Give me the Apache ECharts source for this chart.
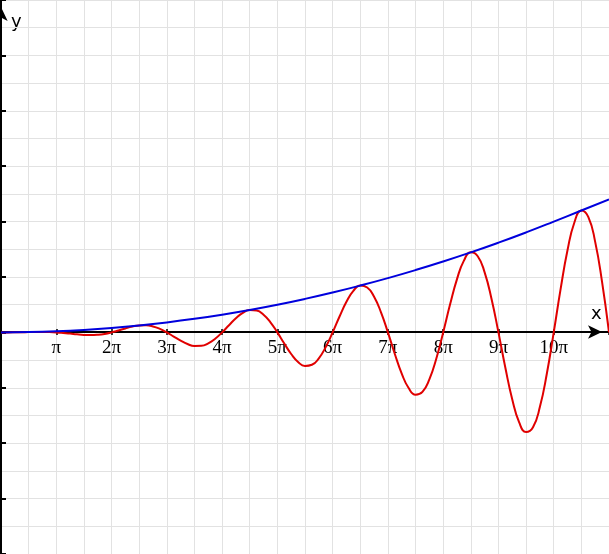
<!DOCTYPE html>
<html>
<head>
<meta charset="utf-8">
<script src="https://cdn.jsdelivr.net/npm/echarts@6/dist/echarts.min.js"></script>
<style>
html,body{margin:0;padding:0;background:#fff;}
#chart{width:609px;height:554px;}
</style>
</head>
<body>
<div id="chart"></div>
<script>
// x in multiples of pi, y in axis-tick units
const tickLabels = ['π','2π','3π','4π','5π','6π','7π','8π','9π','10π'];

const redX = [0,0.125,0.25,0.375,0.5,0.625,0.75,0.875,1,1.125,1.25,1.375,1.5,1.625,1.75,1.875,2,2.125,2.25,2.375,2.5,2.625,2.75,2.875,3,3.125,3.25,3.375,3.5,3.625,3.75,3.875,4,4.125,4.25,4.375,4.5,4.625,4.75,4.875,5,5.125,5.25,5.375,5.5,5.625,5.75,5.875,6,6.125,6.25,6.375,6.5,6.625,6.75,6.875,7,7.125,7.25,7.375,7.5,7.625,7.75,7.875,8,8.125,8.25,8.375,8.5,8.625,8.75,8.875,9,9.125,9.25,9.375,9.5,9.625,9.75,9.875,10,10.125,10.25,10.375,10.5,10.625,10.75,10.875,11];
const redY = [0,0,0.001,0.003,0.005,0.007,0.008,0.006,0,-0.01,-0.022,-0.035,-0.045,-0.049,-0.043,-0.027,0,0.035,0.072,0.104,0.125,0.127,0.107,0.063,0,-0.075,-0.149,-0.21,-0.245,-0.243,-0.199,-0.115,0,0.13,0.255,0.354,0.405,0.395,0.319,0.182,0,-0.201,-0.39,-0.534,-0.605,-0.585,-0.468,-0.264,0,0.287,0.552,0.751,0.845,0.811,0.644,0.362,0,-0.389,-0.743,-1.005,-1.125,-1.074,-0.849,-0.475,0,0.506,0.962,1.296,1.445,1.375,1.083,0.603,0,-0.638,-1.21,-1.624,-1.8,-1.712,-1.344,-0.747,0,0.785,1.486,1.989,2.2,2.086,1.634,0.906,0];

const envX = [0,0.5,1,1.5,2,2.5,3,3.5,4,4.5,5,5.5,6,6.5,7,7.5,8,8.5,9,9.5,10,10.5,11];
const envY = [0,0.005,0.02,0.045,0.08,0.125,0.18,0.245,0.32,0.405,0.5,0.605,0.72,0.845,0.98,1.125,1.28,1.445,1.62,1.805,2.0,2.2,2.4];

const chart = echarts.init(document.getElementById('chart'));
const gridColor = '#e2e2e2';
chart.setOption({
  animation: false,
  grid: {left: 1, right: 0, top: 0, bottom: 0, containLabel: false, outerBoundsMode: 'none'},
  xAxis: [{
    type: 'value', min: 0, max: 11, interval: 1,
    position: 'bottom', offset: -222,
    axisLine: {show: true, onZero: false, lineStyle: {color: '#000', width: 2},
      symbol: ['none', 'arrow'], symbolSize: [10, 14], symbolOffset: [0, -7]},
    axisTick: {show: true, length: 3, lineStyle: {color: '#000', width: 1.5}},
    axisLabel: {
      show: true, margin: 7, color: '#000', fontFamily: 'Liberation Serif', fontSize: 19,
      showMinLabel: true, showMaxLabel: true, hideOverlap: false,
      formatter: v => (v >= 1 && v <= tickLabels.length && Number.isInteger(v)) ? tickLabels[v - 1] : ''
    },
    splitLine: {show: true, lineStyle: {color: gridColor, width: 1}},
    minorTick: {show: false, splitNumber: 2},
    minorSplitLine: {show: true, lineStyle: {color: gridColor, width: 1}}
  }, {
    type: 'value', min: 0, max: 11, interval: 1,
    position: 'bottom', offset: -222,
    axisLine: {show: false, onZero: false},
    axisTick: {show: true, inside: true, length: 3, lineStyle: {color: '#000', width: 1.5}},
    axisLabel: {show: false},
    splitLine: {show: false},
    minorSplitLine: {show: false}
  }],
  yAxis: {
    type: 'value', min: -4, max: 6, interval: 1,
    axisLine: {show: true, onZero: false, lineStyle: {color: '#000', width: 2},
      symbol: ['none', 'arrow'], symbolSize: [10, 14], symbolOffset: [0, -7]},
    axisTick: {show: true, inside: true, length: 5, lineStyle: {color: '#000', width: 2}},
    axisLabel: {show: false},
    splitLine: {show: true, lineStyle: {color: gridColor, width: 1}},
    minorTick: {show: false, splitNumber: 2},
    minorSplitLine: {show: true, lineStyle: {color: gridColor, width: 1}}
  },
  graphic: [
    {type: 'text', left: 11, top: 13, style: {text: 'y', font: '18px "DejaVu Sans"', fill: '#000'}},
    {type: 'text', left: 591, top: 305, style: {text: 'x', font: '18px "DejaVu Sans"', fill: '#000'}}
  ],
  series: [
    {
      type: 'line', smooth: true, showSymbol: false, clip: true, xAxisIndex: 0,
      data: redX.map((x, i) => [x, redY[i]]),
      lineStyle: {color: '#e00000', width: 2}, z: 3
    },
    {
      type: 'line', smooth: true, showSymbol: false, clip: true, xAxisIndex: 0,
      data: envX.map((x, i) => [x, envY[i]]),
      lineStyle: {color: '#0000dd', width: 2}, z: 4
    }
  ]
});
</script>
</body>
</html>
